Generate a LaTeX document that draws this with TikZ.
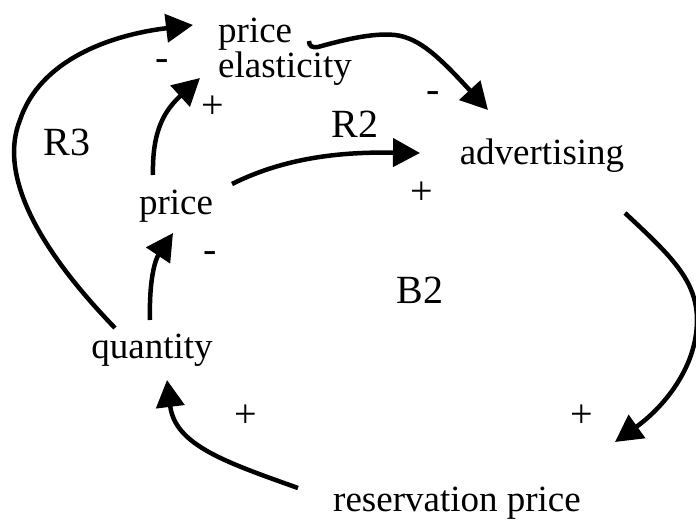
\documentclass[tikz,border=0pt]{standalone}
\usepackage{fontspec}
\setmainfont{Liberation Serif}
\usetikzlibrary{arrows.meta,calc}
\begin{document}
\begin{tikzpicture}[x=1bp,y=-1bp,
  lbl/.style={inner sep=0pt, font=\fontsize{37bp}{35bp}\selectfont},
  looplbl/.style={inner sep=0pt, font=\fontsize{40bp}{40bp}\selectfont},
  sgn/.style={inner sep=0pt, font=\fontsize{40bp}{40bp}\selectfont},
  link/.style={line width=4.5bp, -{Triangle[length=27bp,width=28bp]}}]
\useasboundingbox (0,0) rectangle (696,523);

% variables
\node[lbl, anchor=north west, align=left] (pe) at (218,18) {price\\elasticity};
\node[lbl, anchor=base] (pr) at (176,215) {price};
\node[lbl, anchor=base] (adv) at (542,165) {advertising};
\node[lbl, anchor=base] (q) at (152,358) {quantity};
\node[lbl, anchor=base] (rp) at (457,511) {reservation price};

% loop labels
\node[looplbl] (r3) at (67,142) {R3};
\node[looplbl] (r2) at (355,124) {R2};
\node[looplbl] (b2) at (420,290) {B2};

% polarity signs
\node[sgn] (s1) at (162,65) {-};
\node[sgn] (s2) at (213,107) {+};
\node[sgn] (s3) at (433,97) {-};
\node[sgn] (s4) at (422,193) {+};
\node[sgn] (s5) at (210,257) {-};
\node[sgn] (s6) at (246,416) {+};
\node[sgn] (s7) at (582,416) {+};

% connectors
% quantity -> price elasticity (R3)
\draw[link] ($(q.base)+(-37,-30)$) .. controls (30,240) and (0,170) .. (20,120)
  .. controls (40,60) and (110,35) .. ($(pe.north west)+(-25,7)$);
% price -> price elasticity
\draw[link] ($(pr.base)+(-23,-40)$) .. controls (152,130) and (165,110) .. ($(pe.north west)+(-18,60)$);
% quantity -> price
\draw[link] ($(q.base)+(-2,-38)$) .. controls (149,280) and (155,260) .. ($(pr.base)+(-3,18)$);
% price -> advertising (R2)
\draw[link] ($(pr.base)+(56,-31)$) .. controls (290,155) and (350,152) .. ($(adv.base)+(-122,-12)$);
% price elasticity -> advertising
\draw[link] ($(pe.north west)+(91,23)$) .. controls (309,46) and (312,48) .. (318,47)
  .. controls (350,38) and (375,33) .. (395,35)
  .. controls (420,38) and (440,58) .. ($(adv.base)+(-54,-55)$);
% advertising -> reservation price
\draw[link] ($(adv.base)+(83,48)$) .. controls (670,255) and (697,280) .. (697,320)
  .. controls (697,370) and (660,410) .. ($(rp.base)+(158,-69)$);
% reservation price -> quantity
\draw[link] ($(rp.base)+(-159,-23)$) .. controls (225,462) and (175,445) .. ($(q.base)+(15,22)$);
\end{tikzpicture}
\end{document}
